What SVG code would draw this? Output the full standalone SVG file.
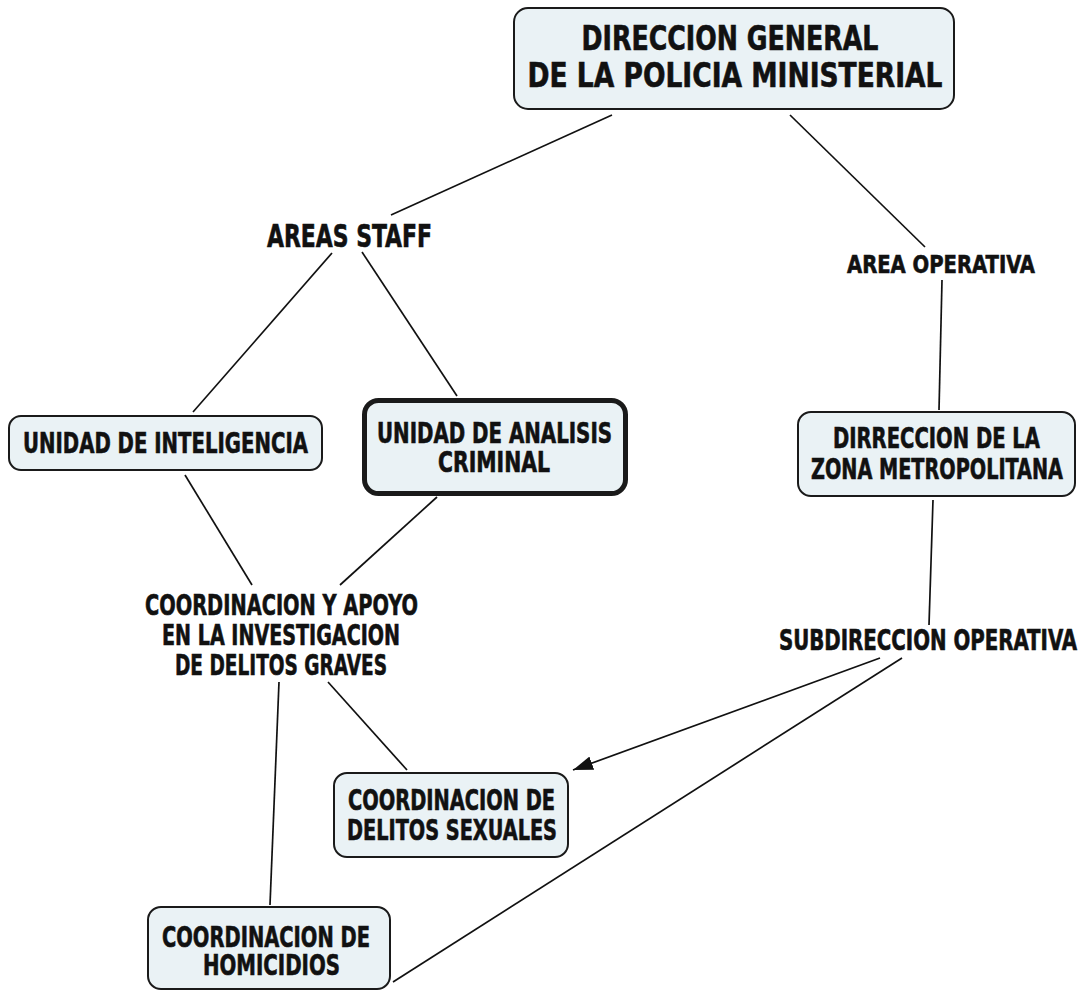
<svg xmlns="http://www.w3.org/2000/svg" width="1088" height="991" viewBox="0 0 1088 991">
<style>
.box{fill:#eaf2f5;stroke:#1a1a1a;stroke-width:2}
.thick{stroke-width:5}
.t{font-family:"DejaVu Sans Condensed","DejaVu Sans",Verdana,sans-serif;font-weight:bold;fill:#111;stroke:#111;stroke-width:0.6;text-anchor:middle}
.c{stroke:#111;stroke-width:1.7;fill:none}
</style>
<defs>
<marker id="arr" viewBox="0 0 20 14" refX="20" refY="7" markerWidth="20" markerHeight="14" markerUnits="userSpaceOnUse" orient="auto">
<path d="M0,0 L20,7 L0,14 Z" fill="#111"/>
</marker>
</defs>
<rect width="1088" height="991" fill="#fff"/>
<g id="connectors">
<line class="c" x1="612" y1="115" x2="391" y2="215"/>
<line class="c" x1="790" y1="115" x2="925" y2="247"/>
<line class="c" x1="332" y1="253" x2="193" y2="412"/>
<line class="c" x1="362" y1="252" x2="457" y2="396"/>
<line class="c" x1="942" y1="280" x2="939" y2="410"/>
<line class="c" x1="185" y1="475" x2="252" y2="585"/>
<line class="c" x1="437" y1="497" x2="340" y2="585"/>
<line class="c" x1="933" y1="500" x2="929" y2="625"/>
<line class="c" x1="328" y1="682" x2="407" y2="770"/>
<line class="c" x1="279" y1="682" x2="270" y2="905"/>
<line class="c" x1="880" y1="658" x2="573" y2="770" marker-end="url(#arr)"/>
<line class="c" x1="902" y1="658" x2="393" y2="982"/>
</g>
<g id="n-direccion-general">
<rect class="box" x="514" y="8" width="440" height="101" rx="14"/>
<text class="t" font-size="34" x="730" y="50" textLength="297" lengthAdjust="spacingAndGlyphs">DIRECCION GENERAL</text>
<text class="t" font-size="34" x="735" y="87" textLength="415" lengthAdjust="spacingAndGlyphs">DE LA POLICIA MINISTERIAL</text>
</g>
<g id="n-areas-staff">
<text class="t" font-size="32" x="349.5" y="247" textLength="165" lengthAdjust="spacingAndGlyphs">AREAS STAFF</text>
</g>
<g id="n-area-operativa">
<text class="t" font-size="25" x="941" y="273" textLength="188" lengthAdjust="spacingAndGlyphs">AREA OPERATIVA</text>
</g>
<g id="n-unidad-inteligencia">
<rect class="box" x="9" y="416" width="313" height="54" rx="12"/>
<text class="t" font-size="29" x="165.5" y="453" textLength="285" lengthAdjust="spacingAndGlyphs">UNIDAD DE INTELIGENCIA</text>
</g>
<g id="n-unidad-analisis">
<rect class="box thick" x="364.5" y="400.5" width="261" height="93" rx="14"/>
<text class="t" font-size="28" x="494.5" y="443" textLength="235" lengthAdjust="spacingAndGlyphs">UNIDAD DE ANALISIS</text>
<text class="t" font-size="28" x="494" y="472" textLength="112" lengthAdjust="spacingAndGlyphs">CRIMINAL</text>
</g>
<g id="n-dirreccion-zona">
<rect class="box" x="798" y="412" width="277" height="84" rx="13"/>
<text class="t" font-size="28" x="936.5" y="448" textLength="207" lengthAdjust="spacingAndGlyphs">DIRRECCION DE LA</text>
<text class="t" font-size="28" x="937" y="479" textLength="252" lengthAdjust="spacingAndGlyphs">ZONA METROPOLITANA</text>
</g>
<g id="n-coordinacion-apoyo">
<text class="t" font-size="29" x="281.5" y="615" textLength="273" lengthAdjust="spacingAndGlyphs">COORDINACION Y APOYO</text>
<text class="t" font-size="29" x="281" y="645" textLength="238" lengthAdjust="spacingAndGlyphs">EN LA INVESTIGACION</text>
<text class="t" font-size="29" x="281" y="675" textLength="212" lengthAdjust="spacingAndGlyphs">DE DELITOS GRAVES</text>
</g>
<g id="n-subdireccion-operativa">
<text class="t" font-size="28" x="928" y="650" textLength="298" lengthAdjust="spacingAndGlyphs">SUBDIRECCION OPERATIVA</text>
</g>
<g id="n-delitos-sexuales">
<rect class="box" x="334" y="773" width="234" height="84" rx="13"/>
<text class="t" font-size="28" x="451.5" y="810" textLength="207" lengthAdjust="spacingAndGlyphs">COORDINACION DE</text>
<text class="t" font-size="28" x="452" y="840" textLength="210" lengthAdjust="spacingAndGlyphs">DELITOS SEXUALES</text>
</g>
<g id="n-homicidios">
<rect class="box" x="148" y="907" width="242" height="82" rx="13"/>
<text class="t" font-size="28" x="266" y="947" textLength="208" lengthAdjust="spacingAndGlyphs">COORDINACION DE</text>
<text class="t" font-size="28" x="271.5" y="975" textLength="137" lengthAdjust="spacingAndGlyphs">HOMICIDIOS</text>
</g>
</svg>
